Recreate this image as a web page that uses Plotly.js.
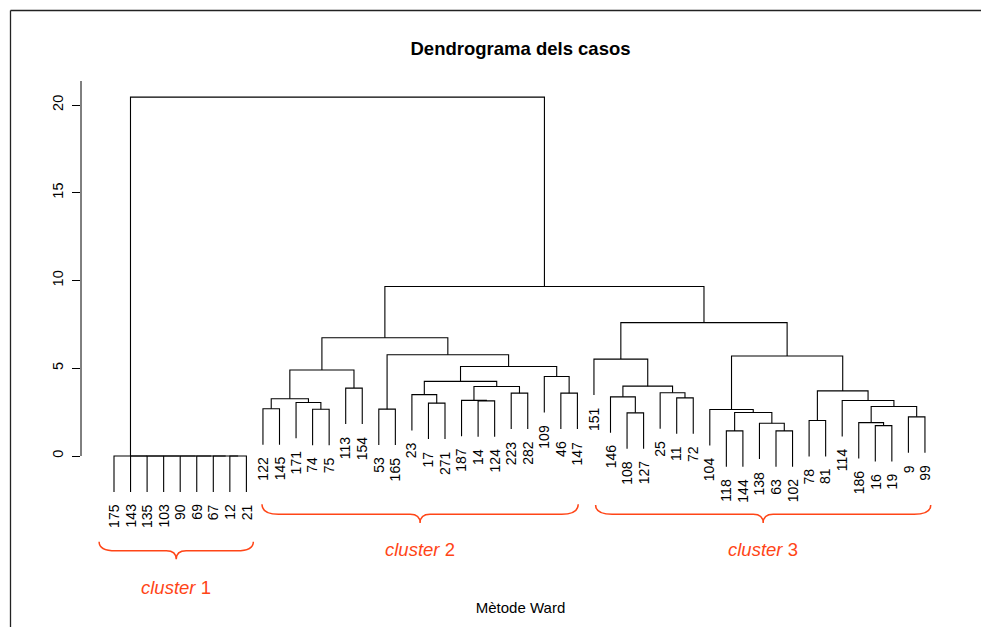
<!DOCTYPE html>
<html><head><meta charset="utf-8">
<script src="https://cdn.plot.ly/plotly-3.0.1.min.js"></script>
<style>html,body{margin:0;padding:0;background:#fff}#chart{width:981px;height:627px}</style>
</head><body><div id="chart"></div>
<script>
// ---- DATA ----
// leaf order along the x axis (case numbers)
const leafLabels = [175,143,135,103,90,69,67,12,21,
  122,145,171,74,75,113,154,53,165,23,17,271,187,14,124,223,282,109,46,147,
  151,146,108,127,25,11,72,104,118,144,138,63,102,78,81,114,186,16,19,9,99];

// agglomeration schedule (R-style merge matrix): negative = case number, positive = earlier step (1-based)
const mergeA = [-12,-67,-69,-90,-103,-135,-143,-175,
  -122,-74,-171,9,-113,12,-53,-17,-23,-14,-187,-223,19,17,-46,-109,22,15,14,
  -108,-146,-11,-25,29,-151,-118,-63,-138,34,-104,-78,-16,-186,-9,41,-114,39,38,33,
  27,8];
const mergeB = [-21,1,2,3,4,5,6,7,
  -145,-75,10,11,-154,13,-165,-271,16,-124,18,-282,20,21,-147,23,24,25,26,
  -127,28,-72,30,31,32,-144,-102,35,36,37,-81,-19,40,-99,42,43,44,45,46,
  47,48];
const mergeHeight = [0,0,0,0,0,0,0,0,
  2.69,2.66,3.05,3.26,3.87,4.90,2.67,3.01,3.50,3.14,3.17,3.58,3.96,4.25,3.58,4.53,5.10,5.77,6.74,
  2.46,3.37,3.31,3.60,3.98,5.52,1.43,1.43,1.87,2.48,2.65,2.02,1.73,1.90,2.23,2.82,3.16,3.71,5.70,7.60,
  9.66,20.45];

const clusterNames = ['1','2','3'];
const clusterFirst = [175,122,151];
const clusterLast = [21,147,99];

const yTicks = [0,5,10,15,20];

// ---- STYLE / DECORATION SETTINGS ----
const FONT = '"Liberation Sans", Arial, Helvetica, sans-serif';
const RED = '#ff4517';
const braceOffset = [[-0.9,0.42],[-0.06,0.05],[0.1,0.35]];
const braceLevels = [[-4.88,-5.40,-5.89],[-2.75,-3.32,-3.82],[-2.79,-3.32,-3.82]];
const clusterLabelY = [-7.49,-5.33,-5.33];

// ---- BUILD DENDROGRAM ----
const leafPos = {};
leafLabels.forEach((l,i)=>{ leafPos[l]=i; });
const hang = 0.1*Math.max(...mergeHeight);
const nodeX = [], nodeY = [];
const leafEnd = {};
const segX = [], segY = [];
function child(c){
  if(c<0) return {x:leafPos[-c], leaf:true, id:-c};
  return {x:nodeX[c-1], y:nodeY[c-1], leaf:false};
}
for(let k=0;k<mergeHeight.length;k++){
  const h = mergeHeight[k];
  const a = child(mergeA[k]), b = child(mergeB[k]);
  nodeX[k] = (a.x+b.x)/2; nodeY[k] = h;
  const ya = a.leaf ? h-hang : a.y;
  const yb = b.leaf ? h-hang : b.y;
  if(a.leaf) leafEnd[a.id] = ya;
  if(b.leaf) leafEnd[b.id] = yb;
  segX.push(a.x,a.x,b.x,b.x,null);
  segY.push(ya,h,h,yb,null);
}

// geometry of the page
const W=981, H=627, mL=81, mR=21, mT=81, mB=48;
const plotW = W-mL-mR, plotH = H-mT-mB;
const yTop = (456-mT)/17.55;
const yBot = yTop - plotH/17.55;
const xMin = -(114-mL)/16.55;
const xMax = xMin + plotW/16.55;
const px2paperX = px => (px-mL)/plotW;
const px2paperY = py => (H-mB-py)/plotH;
const y2paper = v => (v-yBot)/(yTop-yBot);

const traces = [{
  type:'scatter', mode:'lines', x:segX, y:segY,
  line:{color:'#000', width:1.1}, hoverinfo:'skip', showlegend:false
}];

const annotations = leafLabels.map(l=>({
  x:leafPos[l], y:leafEnd[l], xref:'x', yref:'y',
  text:String(l), textangle:-90, showarrow:false,
  xanchor:'center', yanchor:'top', yshift:-10,
  font:{family:FONT, size:14, color:'#000'}
}));

const shapes = [];
clusterNames.forEach((name,i)=>{
  const x0 = leafPos[clusterFirst[i]] + braceOffset[i][0];
  const x1 = leafPos[clusterLast[i]] + braceOffset[i][1];
  const xm = (x0+x1)/2;
  const [yt,yb,yp] = braceLevels[i];
  const r = 1.0, rt = 0.6;
  const p = `M ${x0},${yt} Q ${x0},${yb} ${x0+r},${yb} L ${xm-rt},${yb} Q ${xm},${yb} ${xm},${yp} `+
            `Q ${xm},${yb} ${xm+rt},${yb} L ${x1-r},${yb} Q ${x1},${yb} ${x1},${yt}`;
  shapes.push({type:'path', xref:'x', yref:'y', path:p, line:{color:RED, width:1.5}});
  annotations.push({x:xm, y:y2paper(clusterLabelY[i]), xref:'x', yref:'paper', showarrow:false,
    text:'<i>cluster</i> '+name, xanchor:'center', yanchor:'middle',
    font:{family:FONT, size:18.5, color:RED}});
});

// y-axis line (from 0 to top)
shapes.push({type:'line', xref:'paper', yref:'y', x0:0, x1:0, y0:0, y1:yTop, line:{color:'#000', width:1}});
// outer frame (left and top border)
shapes.push({type:'line', xref:'paper', yref:'paper', x0:px2paperX(10.5), x1:px2paperX(10.5), y0:px2paperY(10.5), y1:px2paperY(H), line:{color:'#222', width:1.3}});
shapes.push({type:'line', xref:'paper', yref:'paper', x0:px2paperX(10.5), x1:px2paperX(W), y0:px2paperY(10.5), y1:px2paperY(10.5), line:{color:'#222', width:1.3}});

const layout = {
  width:W, height:H, autosize:false,
  margin:{l:mL, r:mR, t:mT, b:mB, autoexpand:false},
  paper_bgcolor:'#fff', plot_bgcolor:'#fff',
  font:{family:FONT, color:'#000'},
  title:{text:'<b>Dendrograma dels casos</b>', x:0.5, xref:'paper', y:1-49/H, yref:'container', yanchor:'middle',
    font:{family:FONT, size:18.5, color:'#000'}},
  xaxis:{range:[xMin,xMax], showticklabels:false, ticks:'', showgrid:false, zeroline:false, showline:false,
    title:{text:'Mètode Ward', font:{family:FONT, size:15, color:'#000'}, standoff:23}},
  yaxis:{range:[yBot,yTop], tickvals:yTicks, ticktext:yTicks.map(String), ticks:'outside', ticklen:8, tickwidth:1,
    tickcolor:'#000', tickangle:-90, tickfont:{family:FONT, size:14.5, color:'#000'}, ticklabelstandoff:3,
    showgrid:false, zeroline:false, showline:false},
  shapes:shapes, annotations:annotations, showlegend:false
};
Plotly.newPlot('chart', traces, layout, {staticPlot:true, displayModeBar:false});
</script>
</body></html>
